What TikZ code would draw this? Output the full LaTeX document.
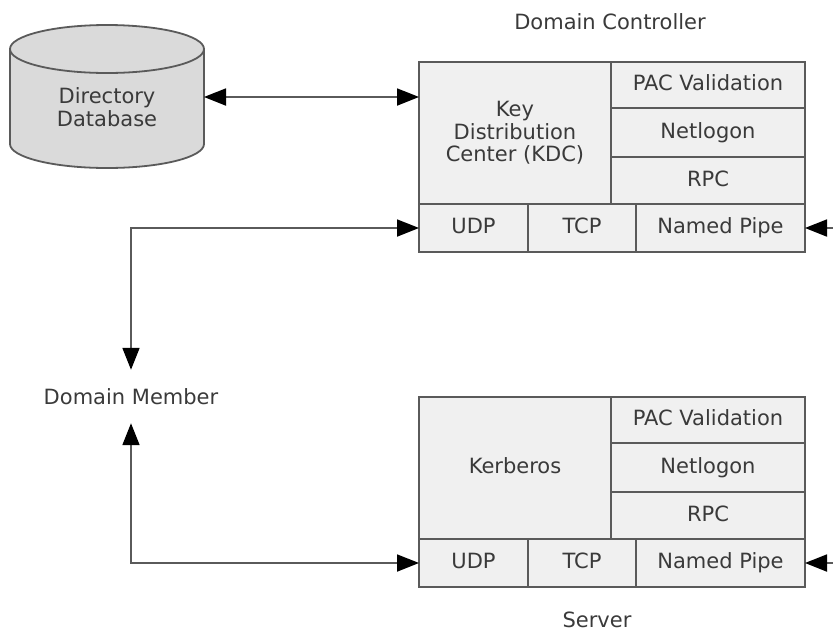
\documentclass[tikz,border=0pt]{standalone}
\usepackage{fontspec}
\setmainfont{DejaVu Sans}
\usetikzlibrary{arrows.meta}
\definecolor{cellfill}{HTML}{F0F0F0}
\definecolor{cylfill}{HTML}{DADADA}
\definecolor{edge}{HTML}{5A5A5A}
\definecolor{txt}{HTML}{3A3A3A}
\tikzset{
  cell/.style={draw=edge, fill=cellfill, line width=1.8pt, inner sep=0pt, outer sep=0pt,
    text=txt, align=center, font=\fontsize{21}{22.5}\selectfont},
  onecell/.style={cell, text height=15.5pt, text depth=4.5pt},
  lbl/.style={text=txt, inner sep=0pt, font=\fontsize{21}{23}\selectfont},
  conn/.style={draw=edge, line width=1.8pt,
    arrows={-Triangle[length=22pt,width=17pt,color=black]}},
  conn2/.style={draw=edge, line width=1.8pt,
    arrows={Triangle[length=22pt,width=17pt,color=black]-Triangle[length=22pt,width=17pt,color=black]}}
}
\begin{document}
\begin{tikzpicture}[x=1pt,y=-1pt]
\useasboundingbox (0,0) rectangle (833,633);
% Directory database cylinder
\path[fill=cylfill, draw=edge, line width=1.8pt] (10,49) -- (10,144)
  arc[start angle=180, end angle=0, x radius=97, y radius=24] -- (204,49) -- cycle;
\path[fill=cylfill, draw=edge, line width=1.8pt] (107,49) ellipse[x radius=97, y radius=24];
\node[lbl, align=center] (db) at (107,107) {Directory\\Database};
\coordinate (dbR) at (204,97);
% Domain controller
\node[lbl] (dclabel) at (610,22) {Domain Controller};
\node[cell, minimum width=192, minimum height=142] (kdc) at (515,133) {Key\\Distribution\\Center (KDC)};
\node[onecell, minimum width=194, minimum height=46] (pac1) at (708,85) {PAC Validation};
\node[onecell, minimum width=194, minimum height=49] (net1) at (708,132.5) {Netlogon};
\node[onecell, minimum width=194, minimum height=47] (rpc1) at (708,180.5) {RPC};
\node[onecell, minimum width=109, minimum height=48] (udp1) at (473.5,228) {UDP};
\node[onecell, minimum width=108, minimum height=48] (tcp1) at (582,228) {TCP};
\node[onecell, minimum width=169, minimum height=48] (pipe1) at (720.5,228) {Named Pipe};
% Server
\node[onecell, minimum width=192, minimum height=142] (kerb) at (515,468) {Kerberos};
\node[onecell, minimum width=194, minimum height=46] (pac2) at (708,420) {PAC Validation};
\node[onecell, minimum width=194, minimum height=49] (net2) at (708,467.5) {Netlogon};
\node[onecell, minimum width=194, minimum height=47] (rpc2) at (708,515.5) {RPC};
\node[onecell, minimum width=109, minimum height=48] (udp2) at (473.5,563) {UDP};
\node[onecell, minimum width=108, minimum height=48] (tcp2) at (582,563) {TCP};
\node[onecell, minimum width=169, minimum height=48] (pipe2) at (720.5,563) {Named Pipe};
\node[lbl] (srvlabel) at (597,620) {Server};
% Domain member
\node[lbl, minimum height=53] (mem) at (131,396.5) {Domain Member};
\coordinate (in1) at (833,228);
\coordinate (in2) at (833,563);
% connectors
\draw[conn2] (dbR) -- (dbR -| kdc.west);
\draw[conn2] (udp1.west) -| (mem.north);
\draw[conn2] (udp2.west) -| (mem.south);
\draw[conn] (in1) -- (pipe1.east);
\draw[conn] (in2) -- (pipe2.east);
\end{tikzpicture}
\end{document}
